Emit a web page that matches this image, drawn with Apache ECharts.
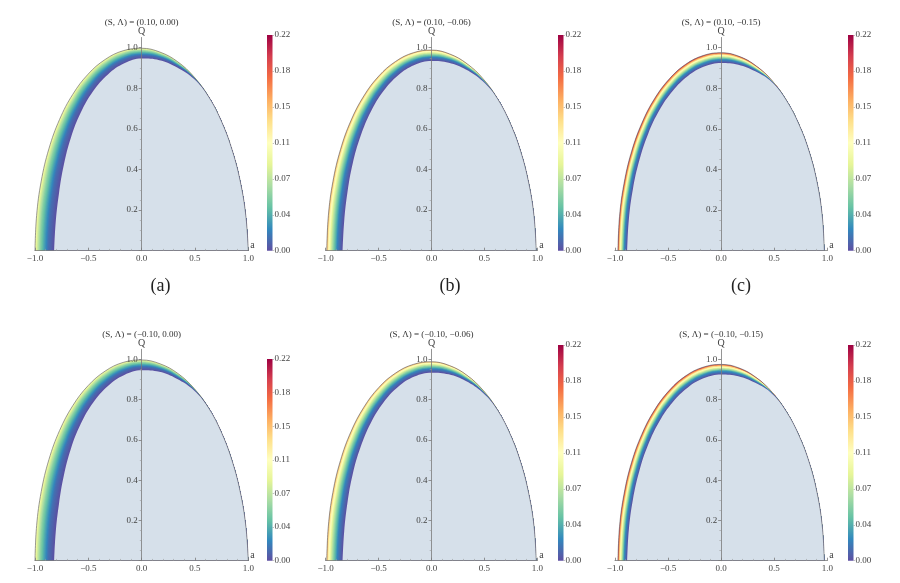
<!DOCTYPE html>
<html>
<head>
<meta charset="utf-8">
<script src="https://cdn.jsdelivr.net/npm/echarts@6/dist/echarts.min.js"></script>
<style>
  html, body { margin: 0; padding: 0; background: #fff; }
  #main { width: 900px; height: 583px; }
</style>
</head>
<body>
<div id="main"></div>
<script>
// boundary samples, polar angle (deg) around the origin of the (a, Q) plane
var thetaDeg = [180, 170, 160, 150, 140, 130, 120, 110, 100, 90, 80, 70, 60, 50, 40, 30, 20, 10, 0];

// radius of outer / inner edge of the coloured band
var outerL0 = [1.000, 1.000, 1.002, 1.004, 1.005, 1.005, 1.004, 1.002, 1.000, 0.997, 0.993, 0.990, 0.987, 0.985, 0.983, 0.983, 0.986, 0.992, 1.000];
var innerL0 = [0.820, 0.818, 0.825, 0.843, 0.866, 0.888, 0.908, 0.924, 0.937, 0.946, 0.953, 0.962, 0.978, 0.985, 0.983, 0.983, 0.986, 0.992, 1.000];
var outerL6 = [0.990, 0.990, 0.992, 0.994, 0.995, 0.995, 0.994, 0.992, 0.990, 0.988, 0.984, 0.980, 0.977, 0.975, 0.974, 0.975, 0.978, 0.984, 0.990];
var innerL6 = [0.840, 0.838, 0.845, 0.860, 0.876, 0.893, 0.908, 0.920, 0.929, 0.934, 0.940, 0.950, 0.965, 0.975, 0.974, 0.975, 0.978, 0.984, 0.990];
var outerL15 = [0.972, 0.972, 0.973, 0.975, 0.976, 0.977, 0.977, 0.977, 0.976, 0.975, 0.972, 0.968, 0.965, 0.963, 0.962, 0.963, 0.965, 0.968, 0.972];
var innerL15 = [0.885, 0.883, 0.885, 0.890, 0.897, 0.904, 0.910, 0.916, 0.921, 0.925, 0.930, 0.940, 0.958, 0.963, 0.962, 0.963, 0.965, 0.968, 0.972];

// value on the outer edge of the band, per Λ
var bandMax = [0.11, 0.16, 0.215];
// value across the band: position from inner (0) to outer (1) edge -> share of bandMax
var bandPos = [0, 0.33, 0.55, 0.72, 0.85, 0.95, 1];
var bandShare = [0, 0.12, 0.32, 0.5, 0.68, 0.85, 1];

var panelTitles = ['(S, \u039B) = (0.10, 0.00)', '(S, \u039B) = (0.10, \u22120.06)', '(S, \u039B) = (0.10, \u22120.15)',
                   '(S, \u039B) = (\u22120.10, 0.00)', '(S, \u039B) = (\u22120.10, \u22120.06)', '(S, \u039B) = (\u22120.10, \u22120.15)'];
var captions = ['(a)', '(b)', '(c)'];
var colorMax = 0.22;
var colorBarValue = [0.22];

var shapes = [
  {outer: outerL0, inner: innerL0, max: bandMax[0]},
  {outer: outerL6, inner: innerL6, max: bandMax[1]},
  {outer: outerL15, inner: innerL15, max: bandMax[2]}
];

// spectral palette (low -> high)
var palette = ['#5e4fa2', '#3288bd', '#66c2a5', '#abdda4', '#e6f598', '#ffffbf', '#fee08b', '#fdae61', '#f46d43', '#d53e4f', '#9e0142'];

// layout: [left, top, width, height] in px
var plotBoxes = [
  [35, 37.5, 213.3, 213.2], [325.7, 37.5, 211.6, 213.2], [615, 37.5, 212.3, 213.2],
  [35, 349.3, 213.3, 211.4], [325.7, 349.3, 211.6, 211.4], [615, 349.3, 212.3, 211.4]
];
var barBoxes = [
  [267, 35, 5.5, 215.7], [558, 35, 5.5, 215.7], [848, 35, 5.5, 215.7],
  [267, 359, 5.5, 201.7], [558, 345, 5.5, 215.7], [848, 345, 5.5, 215.7]
];
var FONT = '"Liberation Serif", "DejaVu Serif", serif';
var fillColor = '#d6e0ea';

function hexToRgb(h) {
  return [parseInt(h.substr(1, 2), 16), parseInt(h.substr(3, 2), 16), parseInt(h.substr(5, 2), 16)];
}
function colorAt(f) {
  f = Math.max(0, Math.min(1, f)) * (palette.length - 1);
  var i = Math.min(Math.floor(f), palette.length - 2), s = f - i;
  var c0 = hexToRgb(palette[i]), c1 = hexToRgb(palette[i + 1]);
  return 'rgb(' + c0.map(function (c, k) { return Math.round(c + (c1[k] - c) * s); }).join(',') + ')';
}
function shareAt(p) {
  for (var k = 1; k < bandPos.length; k++) {
    if (p <= bandPos[k]) {
      var s = (p - bandPos[k - 1]) / (bandPos[k] - bandPos[k - 1]);
      return bandShare[k - 1] + s * (bandShare[k] - bandShare[k - 1]);
    }
  }
  return 1;
}
// curve between inner (t=0) and outer (t=1) edge, in (a, Q)
function bandCurve(shape, t) {
  return thetaDeg.map(function (deg, k) {
    var r = shape.inner[k] + t * (shape.outer[k] - shape.inner[k]);
    var th = deg * Math.PI / 180;
    return [r * Math.cos(th), Math.max(0, r * Math.sin(th))];
  });
}
function fmtSigned(v, d) {
  return (v < -1e-9 ? '\u2212' : '') + Math.abs(v).toFixed(d);
}

var grids = [], xAxes = [], yAxes = [], series = [], graphics = [];
var LAYERS = 36;

plotBoxes.forEach(function (b, i) {
  var shape = shapes[i % 3];
  grids[i] = {left: b[0], top: b[1], width: b[2], height: b[3]};
  xAxes[i] = {
    gridIndex: i, type: 'value', min: -1, max: 1, interval: 0.5, z: 10,
    axisLine: {onZero: false, lineStyle: {color: '#7a7a7a', width: 0.8}},
    axisTick: {inside: true, length: 3, lineStyle: {color: '#7a7a7a', width: 0.8}},
    minorTick: {show: true, splitNumber: 5, length: 1.8, lineStyle: {color: '#9a9a9a', width: 0.6}},
    axisLabel: {fontFamily: FONT, fontSize: 9, color: '#444', margin: 3,
      formatter: function (v) { return fmtSigned(v, 1); }},
    splitLine: {show: false},
    name: 'a', nameLocation: 'end', nameGap: 2, nameMoveOverlap: false,
    nameTextStyle: {fontFamily: FONT, fontSize: 10, color: '#444', verticalAlign: 'bottom'}
  };
  // y axis sits at a = 0 (middle of the grid)
  yAxes[i] = {
    gridIndex: i, type: 'value', min: 0, max: 1.05, interval: 0.2, z: 10,
    position: 'left', offset: -b[2] / 2,
    axisLine: {onZero: false, lineStyle: {color: '#7a7a7a', width: 0.8}},
    axisTick: {length: 3, lineStyle: {color: '#7a7a7a', width: 0.8}, customValues: [0, 0.2, 0.4, 0.6, 0.8, 1.0]},
    minorTick: {show: true, splitNumber: 4, length: 1.8, lineStyle: {color: '#9a9a9a', width: 0.6}},
    axisLabel: {fontFamily: FONT, fontSize: 9, color: '#444', margin: 4,
      formatter: function (v) { return (v > 0.01 && v < 1.01) ? v.toFixed(1) : ''; }},
    splitLine: {show: false},
    name: 'Q', nameLocation: 'end', nameGap: 1, nameMoveOverlap: false,
    nameTextStyle: {fontFamily: FONT, fontSize: 10, color: '#444'}
  };

  // coloured band: nested filled curves from the outer edge inwards
  for (var k = 0; k < LAYERS; k++) {
    var t = 1 - k / LAYERS;
    var mid = 1 - (k + 0.5) / LAYERS;
    var v = shape.max * shareAt(mid);
    series.push({
      type: 'line', xAxisIndex: i, yAxisIndex: i, data: bandCurve(shape, t),
      smooth: 0.4, symbol: 'none', silent: true, animation: false,
      lineStyle: {width: 0}, areaStyle: {color: colorAt(v / colorMax), opacity: 1}
    });
  }
  series.push({
    type: 'line', xAxisIndex: i, yAxisIndex: i, data: bandCurve(shape, 0),
    smooth: 0.4, symbol: 'none', silent: true, animation: false,
    lineStyle: {width: 0}, areaStyle: {color: fillColor, opacity: 1}
  });
  series.push({
    type: 'line', xAxisIndex: i, yAxisIndex: i, data: bandCurve(shape, 1),
    smooth: 0.4, symbol: 'none', silent: true, animation: false,
    lineStyle: {color: '#6d6d6d', width: 0.7}
  });

  // colour bar
  var c = barBoxes[i];
  grids[6 + i] = {left: c[0], top: c[1], width: c[2], height: c[3]};
  xAxes[6 + i] = {gridIndex: 6 + i, type: 'category', data: ['v'], show: false};
  yAxes[6 + i] = {
    gridIndex: 6 + i, type: 'value', position: 'right', min: 0, max: colorMax, interval: colorMax / 6,
    axisLine: {show: false},
    axisTick: {show: true, length: 1.5, lineStyle: {color: '#999', width: 0.6}},
    axisLabel: {fontFamily: FONT, fontSize: 9, color: '#444', margin: 2,
      formatter: function (v) { return v.toFixed(2); }},
    splitLine: {show: false}
  };
  series.push({
    type: 'bar', xAxisIndex: 6 + i, yAxisIndex: 6 + i, data: colorBarValue, barWidth: '100%',
    silent: true, animation: false,
    itemStyle: {color: {type: 'linear', x: 0, y: 1, x2: 0, y2: 0,
      colorStops: palette.map(function (col, n) { return {offset: n / (palette.length - 1), color: col}; })}}
  });

  graphics.push({
    type: 'text', x: b[0] + b[2] / 2, y: i < 3 ? 23 : 335,
    style: {text: panelTitles[i], fontFamily: FONT, fontSize: 9, fill: '#333', align: 'center', verticalAlign: 'middle'}
  });
});

[160.5, 450, 741].forEach(function (x, i) {
  graphics.push({
    type: 'text', x: x, y: 286.5,
    style: {text: captions[i], fontFamily: FONT, fontSize: 18, fill: '#222', align: 'center', verticalAlign: 'middle'}
  });
});

var chart = echarts.init(document.getElementById('main'));
chart.setOption({
  backgroundColor: '#fff',
  animation: false,
  grid: grids,
  xAxis: xAxes,
  yAxis: yAxes,
  series: series,
  graphic: graphics
});
</script>
</body>
</html>
